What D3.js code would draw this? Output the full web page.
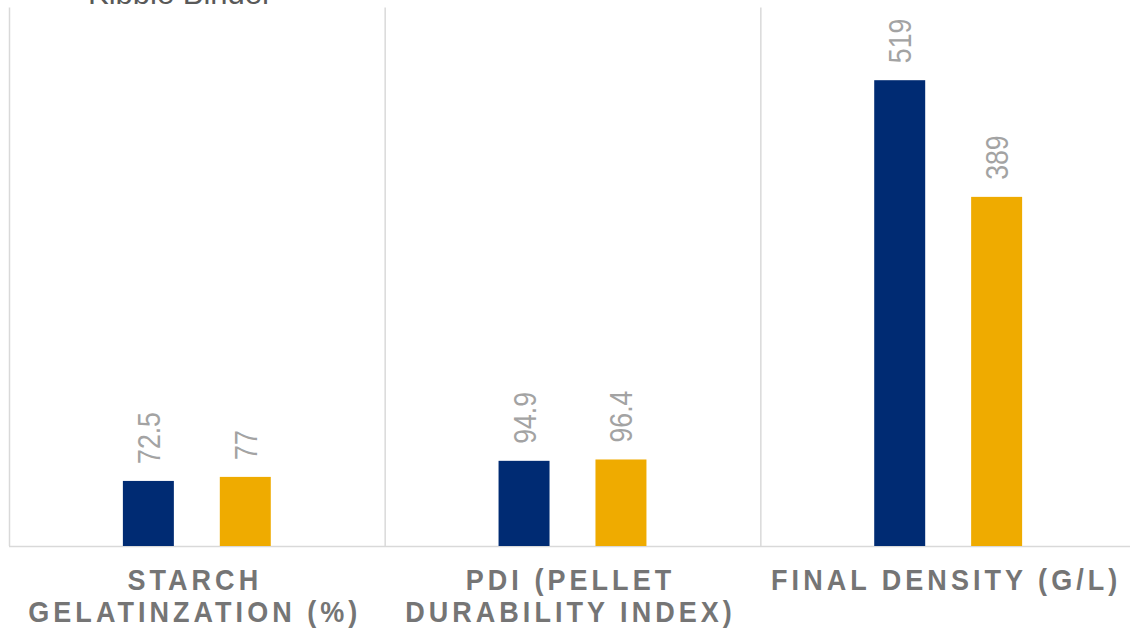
<!DOCTYPE html>
<html>
<head>
<meta charset="utf-8">
<script src="https://cdn.jsdelivr.net/npm/d3@7"></script>
<style>
  html, body { margin: 0; padding: 0; background: #fff; }
  svg { display: block; font-family: "Liberation Sans", Arial, sans-serif; }
</style>
</head>
<body>
<svg id="chart" width="1130" height="629"></svg>
<script>
// ************************************
// Data
// ************************************
const categories = [
  ["STARCH", "GELATINZATION (%)"],
  ["PDI (PELLET", "DURABILITY INDEX)"],
  ["FINAL DENSITY (G/L)"]
];
const seriesKeys = ["base", "kibble"];
const baseValues = [72.5, 94.9, 519];
const kibbleValues = [77, 96.4, 389];
const legendLabel = "Kibble Binder";
const seriesColors = ["#002b73", "#efab00"];

const svg = d3.select("#chart");

const margin = { top: 7, left: 9, right: -6, bottom: 83 };
const W = 1130, H = 629;

// outer scale (categories) and inner scale (series)
const x0 = d3.scaleBand()
  .domain(d3.range(categories.length))
  .range([margin.left, W - margin.right])
  .padding(0);

const x1 = d3.scaleBand()
  .domain(seriesKeys)
  .range([0, x0.bandwidth()])
  .paddingInner(0.474)
  .paddingOuter(1.175);

const y = d3.scaleLinear()
  .domain([0, 600])
  .range([H - margin.bottom, margin.top + 0.5]);

const g = svg.append("g");

// vertical separators between categories
g.selectAll(".sep")
  .data(d3.range(categories.length + 1))
  .enter().append("line")
    .attr("class", "sep")
    .attr("x1", i => i < categories.length ? x0(i) + 0.5 : x0(i - 1) + x0.bandwidth())
    .attr("x2", i => i < categories.length ? x0(i) + 0.5 : x0(i - 1) + x0.bandwidth())
    .attr("y1", y.range()[1])
    .attr("y2", y(0))
    .attr("stroke", "#d9d9d9")
    .attr("stroke-width", 1.5);

// baseline
g.append("line")
  .attr("x1", x0.range()[0])
  .attr("x2", W)
  .attr("y1", y(0) + 0.5)
  .attr("y2", y(0) + 0.5)
  .attr("stroke", "#d9d9d9")
  .attr("stroke-width", 1.5);

// bars
const rows = categories.map((c, i) => ({
  i: i,
  vals: [
    { key: "base", v: baseValues[i] },
    { key: "kibble", v: kibbleValues[i] }
  ]
}));

const color = d3.scaleOrdinal().domain(seriesKeys).range(seriesColors);

const grp = g.selectAll(".cat")
  .data(rows)
  .enter().append("g")
    .attr("class", "cat")
    .attr("transform", d => `translate(${x0(d.i)},0)`);

grp.selectAll("rect")
  .data(d => d.vals)
  .enter().append("rect")
    .attr("x", d => x1(d.key))
    .attr("y", d => y(d.v))
    .attr("width", x1.bandwidth())
    .attr("height", d => y(0) - y(d.v))
    .attr("fill", d => color(d.key));

// rotated value labels
grp.selectAll(".val")
  .data(d => d.vals)
  .enter().append("text")
    .attr("class", "val")
    .attr("transform", d =>
      `translate(${x1(d.key) + x1.bandwidth() / 2},${y(d.v) - 17}) rotate(-90) scale(0.86,1)`)
    .attr("y", 11.5)
    .attr("font-size", 31)
    .attr("fill", "#a3a3a3")
    .text(d => d.v);

// category labels
const labels = g.selectAll(".catlabel")
  .data(categories)
  .enter().append("text")
    .attr("class", "catlabel")
    .attr("transform", (d, i) => `translate(${x0(i) + x0.bandwidth() / 2 - 2},590) scale(0.9,1)`)
    .attr("text-anchor", "middle")
    .attr("font-size", 30)
    .attr("font-weight", "bold")
    .attr("letter-spacing", 4.5)
    .attr("fill", "#757575");

labels.selectAll("tspan")
  .data(d => d)
  .enter().append("tspan")
    .attr("x", 0)
    .attr("dy", (d, j) => j === 0 ? 0 : 32)
    .text(d => d);

// legend (cut off at the top, as in the source)
svg.append("text")
  .attr("x", 88)
  .attr("y", 4)
  .attr("font-size", 31)
  .attr("fill", "#595959")
  .text(legendLabel);
</script>
</body>
</html>
